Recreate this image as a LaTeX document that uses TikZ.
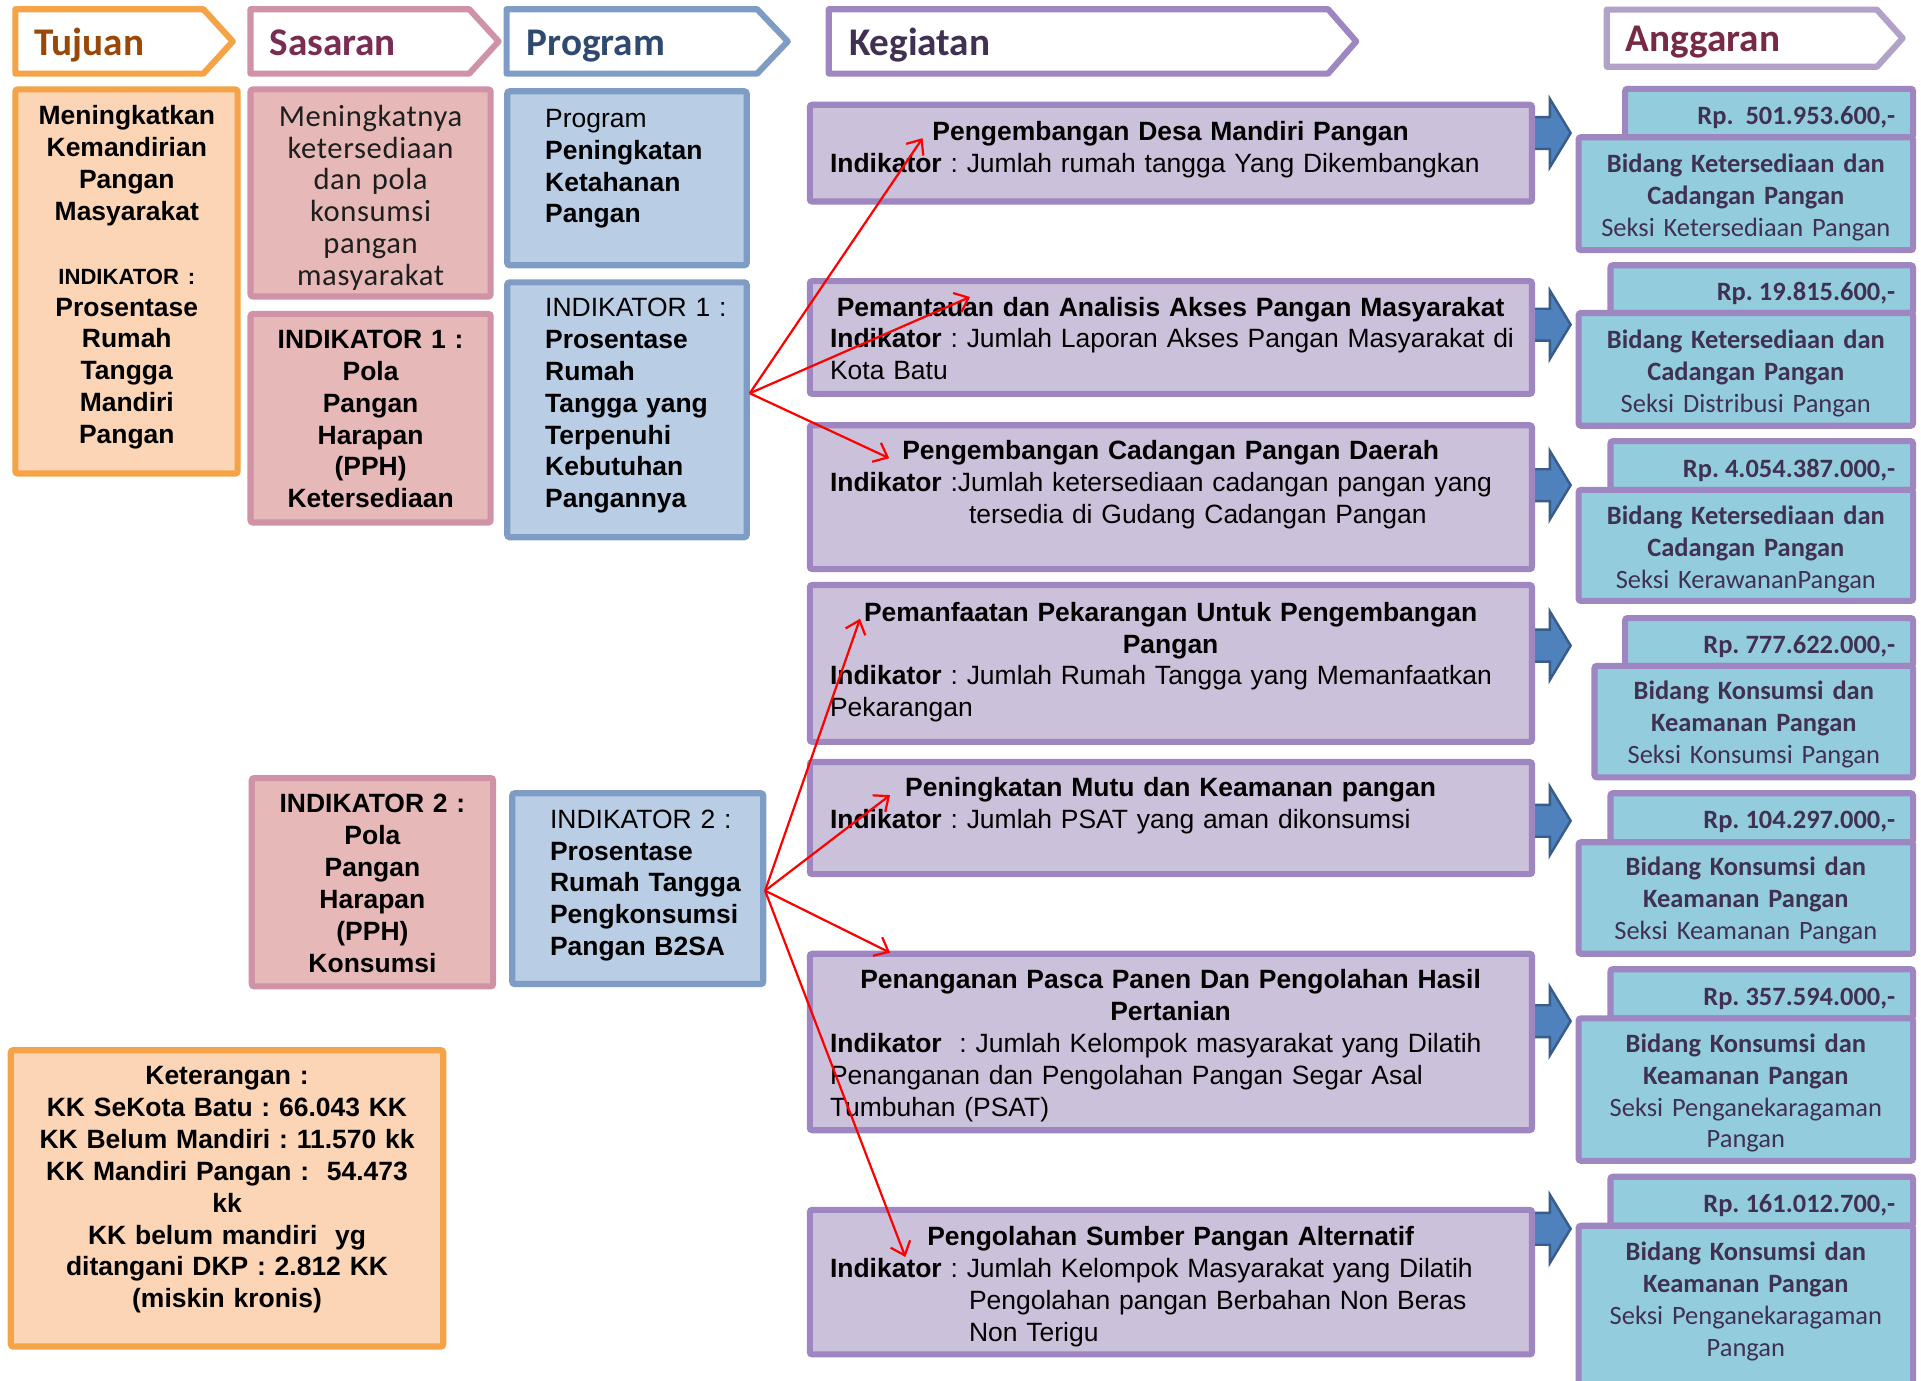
\documentclass[tikz,border=0pt]{standalone}
\usepackage{fontspec}
\setmainfont{Liberation Sans}
\newfontfamily\calfont{Carlito}
\newfontfamily\calspaced[LetterSpace=2]{Carlito}
\usetikzlibrary{arrows.meta}
\definecolor{orB}{HTML}{F4A446}
\definecolor{orF}{HTML}{FBD5B5}
\definecolor{pkB}{HTML}{D092A7}
\definecolor{pkF}{HTML}{E6B9B8}
\definecolor{blB}{HTML}{7F9DC4}
\definecolor{blF}{HTML}{B9CDE5}
\definecolor{puB}{HTML}{9E86C0}
\definecolor{puF}{HTML}{CCC1DA}
\definecolor{puL}{HTML}{B3A2C7}
\definecolor{cyF}{HTML}{93CDDD}
\definecolor{puT}{HTML}{403152}
\definecolor{arF}{HTML}{4F81BD}
\definecolor{arB}{HTML}{385D8A}
\definecolor{hTa}{HTML}{984807}
\definecolor{hTb}{HTML}{7B2C52}
\definecolor{hTc}{HTML}{2F4A70}
\definecolor{hTd}{HTML}{403152}
\definecolor{hTe}{HTML}{772A44}
\definecolor{txG}{HTML}{1E1E1E}
\frenchspacing
% box: name x1 y1 x2 y2 border fill  (outer edges)
\newcommand\bx[7]{\node[draw=#6, fill=#7, line width=5pt, rounded corners=2pt, inner sep=0pt, outer sep=0pt, anchor=north west, minimum width={(#4)-(#2)-5}, minimum height={(#5)-(#3)-5}] (#1) at ({#2+2.5},{#3+2.5}) {};}
% header chevron: x1 y1 xb xt y2 color
\newcommand\hdr[6]{\draw[draw=#6, line width=5pt, fill=white, line join=round] ({#1+2.5},{#2+2.5}) -- (#3,{#2+2.5}) -- ({#4-3},{(#2+#5)/2}) -- (#3,{#5-2.5}) -- ({#1+2.5},{#5-2.5}) -- cycle;}
% block arrow at centre y
\newcommand\barw[1]{\draw[draw=arB, fill=arF, line width=2pt, line join=miter] (1251,{#1-13}) -- (1265,{#1-13}) -- (1265,{#1-28}) -- (1282,#1) -- (1265,{#1+28}) -- (1265,{#1+13}) -- (1251,{#1+13}) -- cycle;}
\begin{document}
\frenchspacing
\begin{tikzpicture}[x=1pt,y=-1pt,
  tr/.style={inner sep=0pt, outer sep=0pt, font=\frenchspacing\fontsize{21.6}{26}\selectfont},
  tb/.style={tr, font=\frenchspacing\fontsize{21.6}{26}\selectfont\bfseries},
  cl/.style={inner sep=0pt, outer sep=0pt, text=puT, font=\calfont\fontsize{21.6}{26}\selectfont},
  hd/.style={inner sep=0pt, outer sep=0pt, anchor=base west, font=\calfont\bfseries\fontsize{32}{38}\selectfont},
  redarr/.style={draw=red, line width=1.8pt, -{Straight Barb[length=10pt,width=17pt,line width=1.8pt]}}
]
\useasboundingbox (0,0) rectangle (1568,1127);
\fill[white] (0,0) rectangle (1568,1127);

% ---------- headers ----------
\hdr{10}{5}{166}{193}{62.6}{orB}
\hdr{202}{5}{383}{410}{62.6}{pkB}
\hdr{411}{5}{618}{646}{62.6}{blB}
\hdr{674}{5}{1084}{1110}{62.6}{puB}
\hdr{1309}{5.4}{1532}{1556}{57}{puL}
\node[hd, text=hTa] (hTuj) at (28,45) {Tujuan};
\node[hd, text=hTb] (hSas) at (220,45) {Sasaran};
\node[hd, text=hTc] (hPro) at (430,45) {Program};
\node[hd, text=hTd] (hKeg) at (693,45) {Kegiatan};
\node[hd, text=hTe] (hAng) at (1327,42) {Anggaran};

% ---------- left columns ----------
\bx{tuj}{10}{70.5}{196.5}{389}{orB}{orF}
\node[tb, text width=180, align=center, anchor=base] (tujA) at (103.5,102) {Meningkatkan\\Kemandirian\\Pangan\\Masyarakat};
\node[tb, text width=180, align=center, anchor=base] (tujB) at (103.5,232) {{\fontsize{18}{26}\selectfont INDIKATOR :}\\Prosentase\\Rumah\\Tangga\\Mandiri\\Pangan};

\bx{sas1}{202}{70.5}{403}{244.5}{pkB}{pkF}
\node[tr, text=txG, font=\calspaced\fontsize{25}{26}\selectfont, text width=195, align=center, anchor=base] (sas1t) at (302.5,103) {Meningkatnya\\ketersediaan\\dan pola\\konsumsi\\pangan\\masyarakat};

\bx{sas2}{202}{253.7}{403}{429}{pkB}{pkF}
\node[tb, text width=195, align=center, anchor=base] (sas2t) at (302.5,284.5) {INDIKATOR 1 :\\Pola\\Pangan\\Harapan\\(PPH)\\Ketersediaan};

\bx{sas3}{203}{632.6}{405}{807.6}{pkB}{pkF}
\node[tb, text width=195, align=center, anchor=base] (sas3t) at (304,663.5) {INDIKATOR 2 :\\Pola\\Pangan\\Harapan\\(PPH)\\Konsumsi};

\bx{pro1}{411.5}{72}{612}{219}{blB}{blF}
\node[tr, text width=160, align=left, anchor=base west] (pro1t) at (445,104) {Program\\\textbf{Peningkatan}\\\textbf{Ketahanan}\\\textbf{Pangan}};

\bx{pro2}{411.5}{228}{612}{441}{blB}{blF}
\node[tr, text width=160, align=left, anchor=base west] (pro2t) at (445,258.5) {INDIKATOR 1 :\\\textbf{Prosentase}\\\textbf{Rumah}\\\textbf{Tangga yang}\\\textbf{Terpenuhi}\\\textbf{Kebutuhan}\\\textbf{Pangannya}};

\bx{pro3}{415.6}{645}{625.5}{805.7}{blB}{blF}
\node[tr, text width=170, align=left, anchor=base west] (pro3t) at (449,676) {INDIKATOR 2 :\\\textbf{Prosentase}\\\textbf{Rumah Tangga}\\\textbf{Pengkonsumsi}\\\textbf{Pangan B2SA}};

\bx{ket}{6.3}{854.7}{364.3}{1101.6}{orB}{orF}
\node[tb, text width=345, align=center, anchor=base] (kett) at (185.3,885.5) {Keterangan :\\KK SeKota Batu : 66.043 KK\\KK Belum Mandiri : 11.570 kk\\KK Mandiri Pangan :\ \ 54.473\\kk\\KK belum mandiri\ \ yg\\ditangani DKP : 2.812 KK\\(miskin kronis)};

% ---------- block arrows ----------
\barw{108.6}
\barw{265}
\barw{396}
\barw{527}
\barw{670}
\barw{833.5}
\barw{1003}

% ---------- kegiatan ----------
\bx{keg1}{658.5}{83}{1253}{167}{puB}{puF}
\node[tb, text width=600, align=center, anchor=base] (keg1t) at (955.5,115) {Pengembangan Desa Mandiri Pangan};
\node[tr, text width=620, align=left, anchor=base west] (keg1i) at (677.5,141) {\textbf{Indikator} : Jumlah rumah tangga Yang Dikembangkan};

\bx{keg2}{658.5}{227}{1253}{324}{puB}{puF}
\node[tb, text width=600, align=center, anchor=base] (keg2t) at (955.5,258) {Pemantauan dan Analisis Akses Pangan Masyarakat};
\node[tr, text width=620, align=left, anchor=base west] (keg2i) at (677.5,284) {\textbf{Indikator} : Jumlah Laporan Akses Pangan Masyarakat di\\Kota Batu};

\bx{keg3}{658.5}{344.6}{1253}{467}{puB}{puF}
\node[tb, text width=600, align=center, anchor=base] (keg3t) at (955.5,375) {Pengembangan Cadangan Pangan Daerah};
\node[tr, text width=620, align=left, anchor=base west] (keg3i) at (677.5,401) {\textbf{Indikator} :Jumlah ketersediaan cadangan pangan yang\\\hspace*{113.5pt}tersedia di Gudang Cadangan Pangan};

\bx{keg4}{658.5}{475}{1253}{608}{puB}{puF}
\node[tb, text width=600, align=center, anchor=base] (keg4t) at (955.5,507) {Pemanfaatan Pekarangan Untuk Pengembangan\\Pangan};
\node[tr, text width=620, align=left, anchor=base west] (keg4i) at (677.5,559) {\textbf{Indikator} : Jumlah Rumah Tangga yang Memanfaatkan\\Pekarangan};

\bx{keg5}{658.5}{619.5}{1253}{716}{puB}{puF}
\node[tb, text width=600, align=center, anchor=base] (keg5t) at (955.5,650) {Peningkatan Mutu dan Keamanan pangan};
\node[tr, text width=620, align=left, anchor=base west] (keg5i) at (677.5,676) {\textbf{Indikator} : Jumlah PSAT yang aman dikonsumsi};

\bx{keg6}{658.5}{776}{1253}{925}{puB}{puF}
\node[tb, text width=600, align=center, anchor=base] (keg6t) at (955.5,807) {Penanganan Pasca Panen Dan Pengolahan Hasil\\Pertanian};
\node[tr, text width=620, align=left, anchor=base west] (keg6i) at (677.5,859) {\textbf{Indikator}\ \ : Jumlah Kelompok masyarakat yang Dilatih\\Penanganan dan Pengolahan Pangan Segar Asal\\Tumbuhan (PSAT)};

\bx{keg7}{658.5}{985}{1253}{1108}{puB}{puF}
\node[tb, text width=600, align=center, anchor=base] (keg7t) at (955.5,1017) {Pengolahan Sumber Pangan Alternatif};
\node[tr, text width=620, align=left, anchor=base west] (keg7i) at (677.5,1043) {\textbf{Indikator} : Jumlah Kelompok Masyarakat yang Dilatih\\\hspace*{113.5pt}Pengolahan pangan Berbahan Non Beras\\\hspace*{113.5pt}Non Terigu};

% ---------- anggaran ----------
\bx{tab1}{1324}{70}{1564}{114.5}{puB}{cyF}
\bx{ang1}{1286}{109.5}{1564}{206.7}{puB}{cyF}
\node[cl, font=\calfont\bfseries\fontsize{21.6}{26}\selectfont, anchor=base east] (rp1) at (1547,101.5) {Rp.\ \ 501.953.600,-};
\node[cl, text width=272, align=center, anchor=base] (ang1t) at (1425,141) {\textbf{Bidang Ketersediaan dan}\\\textbf{Cadangan Pangan}\\Seksi Ketersediaan Pangan};

\bx{tab2}{1312}{214}{1564}{258}{puB}{cyF}
\bx{ang2}{1286}{253}{1564}{350}{puB}{cyF}
\node[cl, font=\calfont\bfseries\fontsize{21.6}{26}\selectfont, anchor=base east] (rp2) at (1547,245.5) {Rp. 19.815.600,-};
\node[cl, text width=272, align=center, anchor=base] (ang2t) at (1425,284.5) {\textbf{Bidang Ketersediaan dan}\\\textbf{Cadangan Pangan}\\Seksi Distribusi Pangan};

\bx{tab3}{1312}{357.6}{1564}{402.4}{puB}{cyF}
\bx{ang3}{1286}{397.4}{1564}{493}{puB}{cyF}
\node[cl, font=\calfont\bfseries\fontsize{21.6}{26}\selectfont, anchor=base east] (rp3) at (1547,389.5) {Rp. 4.054.387.000,-};
\node[cl, text width=272, align=center, anchor=base] (ang3t) at (1425,428) {\textbf{Bidang Ketersediaan dan}\\\textbf{Cadangan Pangan}\\Seksi KerawananPangan};

\bx{tab4}{1324}{502}{1564}{546}{puB}{cyF}
\bx{ang4}{1299}{541}{1564}{637}{puB}{cyF}
\node[cl, font=\calfont\bfseries\fontsize{21.6}{26}\selectfont, anchor=base east] (rp4) at (1547,533) {Rp. 777.622.000,-};
\node[cl, text width=260, align=center, anchor=base] (ang4t) at (1431.5,571) {\textbf{Bidang Konsumsi dan}\\\textbf{Keamanan Pangan}\\Seksi Konsumsi Pangan};

\bx{tab5}{1312}{645}{1564}{690}{puB}{cyF}
\bx{ang5}{1286}{685}{1564}{781}{puB}{cyF}
\node[cl, font=\calfont\bfseries\fontsize{21.6}{26}\selectfont, anchor=base east] (rp5) at (1547,676.5) {Rp. 104.297.000,-};
\node[cl, text width=272, align=center, anchor=base] (ang5t) at (1425,715) {\textbf{Bidang Konsumsi dan}\\\textbf{Keamanan Pangan}\\Seksi Keamanan Pangan};

\bx{tab6}{1312}{788.6}{1564}{833.7}{puB}{cyF}
\bx{ang6}{1286}{828.7}{1564}{950}{puB}{cyF}
\node[cl, font=\calfont\bfseries\fontsize{21.6}{26}\selectfont, anchor=base east] (rp6) at (1547,820.5) {Rp. 357.594.000,-};
\node[cl, text width=272, align=center, anchor=base] (ang6t) at (1425,859) {\textbf{Bidang Konsumsi dan}\\\textbf{Keamanan Pangan}\\Seksi Penganekaragaman\\Pangan};

\bx{tab7}{1312}{958}{1564}{1003}{puB}{cyF}
\bx{ang7}{1286}{998}{1564}{1145}{puB}{cyF}
\node[cl, font=\calfont\bfseries\fontsize{21.6}{26}\selectfont, anchor=base east] (rp7) at (1547,989.5) {Rp. 161.012.700,-};
\node[cl, text width=272, align=center, anchor=base] (ang7t) at (1425,1029) {\textbf{Bidang Konsumsi dan}\\\textbf{Keamanan Pangan}\\Seksi Penganekaragaman\\Pangan};

% ---------- red connectors ----------
\coordinate (oA) at (612,321);
\coordinate (oB) at (624.5,727);
\coordinate (tA1) at (753,112.8);
\coordinate (tA2) at (791.8,242.4);
\coordinate (tA3) at (725.8,374);
\coordinate (tB1) at (702,505);
\coordinate (tB2) at (726.5,649);
\coordinate (tB3) at (726.5,777.6);
\coordinate (tB4) at (739,1026);
\draw[redarr] (oA) -- (tA1);
\draw[redarr] (oA) -- (tA2);
\draw[redarr] (oA) -- (tA3);
\draw[redarr] (oB) -- (tB1);
\draw[redarr] (oB) -- (tB2);
\draw[redarr] (oB) -- (tB3);
\draw[redarr] (oB) -- (tB4);
\end{tikzpicture}
\end{document}
